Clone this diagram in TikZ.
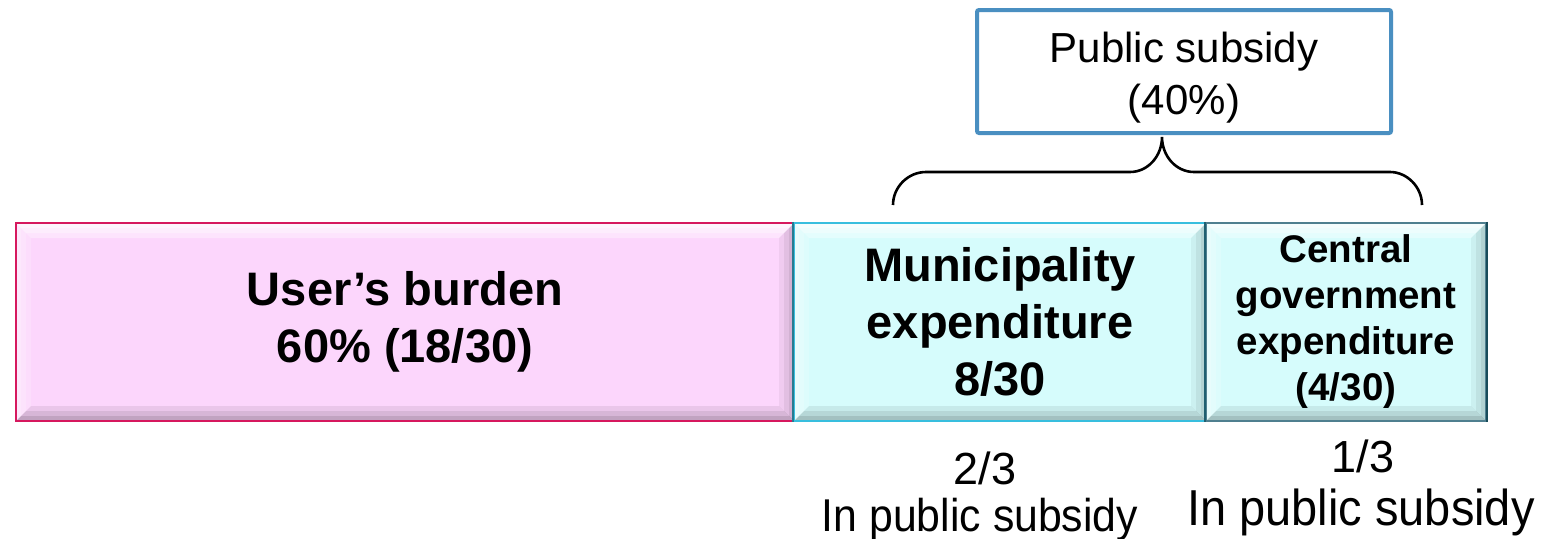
\documentclass[tikz,border=0pt]{standalone}
\usepackage{fontspec}
\setmainfont{Liberation Sans}
\newfontfamily\narrowfont[FakeStretch=0.93]{Liberation Sans}
\definecolor{pinkfill}{HTML}{FCD6FC}
\definecolor{pinkline}{HTML}{D6185E}
\definecolor{cyanfill}{HTML}{D6FCFC}
\definecolor{cyanline}{HTML}{38BEDE}
\definecolor{tealdark}{HTML}{1F5F70}
\definecolor{slateline}{HTML}{4F7F8F}
\definecolor{psblue}{HTML}{4A8FC1}
\newcommand{\bevelband}[3]{% width, top/left opacity, bottom/right opacity
    \fill[white,opacity=#2] (path picture bounding box.north west) -- (path picture bounding box.north east)
      -- ([shift={(-#1,#1)}]path picture bounding box.north east) -- ([shift={(#1,#1)}]path picture bounding box.north west) -- cycle;
    \fill[white,opacity=#2*0.5] (path picture bounding box.north west) -- ([shift={(#1,#1)}]path picture bounding box.north west)
      -- ([shift={(#1,-#1)}]path picture bounding box.south west) -- (path picture bounding box.south west) -- cycle;
    \fill[black,opacity=#3] (path picture bounding box.south west) -- (path picture bounding box.south east)
      -- ([shift={(-#1,-#1)}]path picture bounding box.south east) -- ([shift={(#1,-#1)}]path picture bounding box.south west) -- cycle;
    \fill[black,opacity=#3*0.7] (path picture bounding box.north east) -- ([shift={(-#1,#1)}]path picture bounding box.north east)
      -- ([shift={(-#1,-#1)}]path picture bounding box.south east) -- (path picture bounding box.south east) -- cycle;
}
\tikzset{
  bevel/.style={path picture={\bevelband{15}{.35}{.07}\bevelband{10}{.35}{.08}\bevelband{5}{.4}{.1}}},
  barbox/.style={rectangle, inner sep=0pt, align=center, line width=2.2pt, bevel,
    font=\fontsize{47}{57}\selectfont\bfseries},
  pinkbox/.style={barbox, fill=pinkfill, draw=pinkline},
  cyanbox/.style={barbox, fill=cyanfill, draw=cyanline},
  psbox/.style={rectangle, inner sep=0pt, align=center, draw=psblue, line width=4pt, rounded corners=2pt,
    font=\fontsize{42}{52}\selectfont},
  bracestyle/.style={line width=2.6pt, black},
  fraclabel/.style={anchor=base, inner sep=0pt, font=\fontsize{45}{45}\selectfont},
}
\begin{document}
\begin{tikzpicture}[x=1pt,y=-1pt]
\path[fill=white] (0,0) rectangle (1544,538);
\useasboundingbox (0,0) rectangle (1544,538);

\node[pinkbox, minimum width=778, minimum height=198] (user) at (405,322) {User’s burden\\60\% (18/30)};
\node[cyanbox, minimum width=412, minimum height=198] (muni) at (1000,322) {Municipality\\expenditure\\8/30};
\node[cyanbox, draw=slateline, minimum width=280, minimum height=198,
      font=\fontsize{38.5}{46}\selectfont\bfseries] (cent) at (1346,322) {Central\\government\\expenditure\\(4/30)};
\draw[tealdark!70!cyanline, line width=2.2pt] (muni.north west) -- (muni.south west);
\draw[tealdark, line width=2.4pt] (cent.north west) -- (cent.south west);
\draw[tealdark!80!black, line width=2.4pt] (cent.north east) -- (cent.south east);

\node[psbox, minimum width=414, minimum height=123] (ps) at (1184,71.5) {\rule{0pt}{42pt}Public subsidy\\(40\%)};

\coordinate (bl) at (893,205);
\coordinate (br) at (1422,205);
\coordinate (bt) at (1162,137);
\draw[bracestyle] (bl) .. controls (893,187) and (908,172) .. (926,172) -- (1130,172)
  .. controls (1148,172) and (1162,156) .. (bt)
  .. controls (1162,156) and (1176,172) .. (1194,172) -- (1390,172)
  .. controls (1407,172) and (1422,187) .. (br);

\node[fraclabel] (f23) at (985,484) {2/3};
\node[anchor=base, inner sep=0pt, font=\narrowfont\fontsize{46}{46}\selectfont] (l23) at (980,531) {In public subsidy};
\node[fraclabel] (f13) at (1363,472) {1/3};
\node[anchor=base, inner sep=0pt, font=\narrowfont\fontsize{50.5}{50.5}\selectfont] (l13) at (1361,525) {In public subsidy};
\end{tikzpicture}
\end{document}
